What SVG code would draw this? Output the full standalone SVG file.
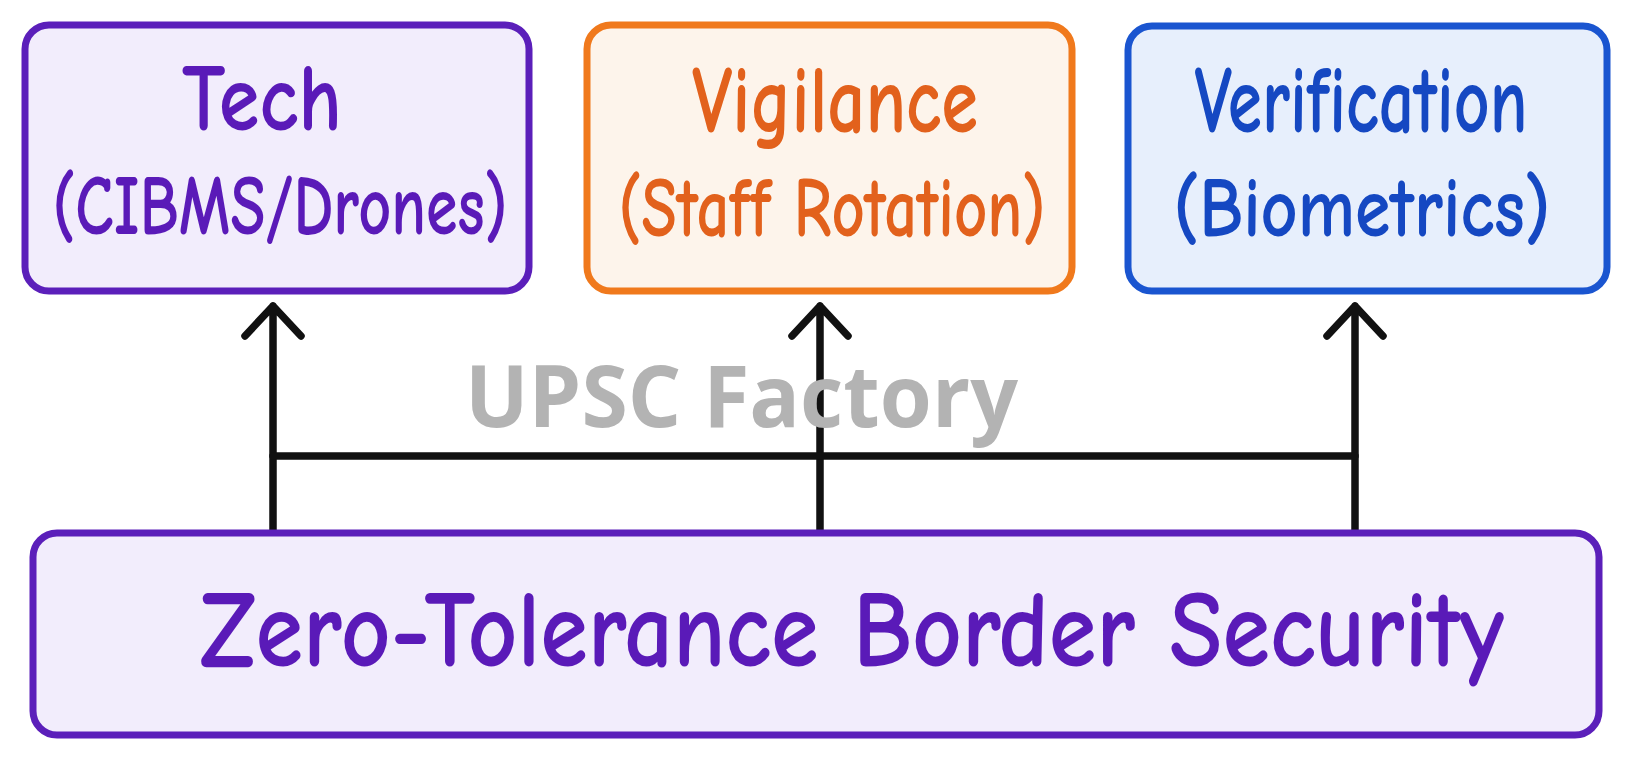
<svg xmlns="http://www.w3.org/2000/svg" width="1632" height="762" viewBox="0 0 1632 762">
<defs>
<style>
.box{stroke-width:7;stroke-linejoin:round}
.lbl{font-family:"Comic Neue","Noto Sans","DejaVu Sans",sans-serif;font-weight:700;text-anchor:middle}
.p{fill:#5a1ab8}.o{fill:#e2611c}.b{fill:#1548c2}
.conn{stroke:#111;stroke-width:7.5;fill:none;stroke-linecap:round;stroke-linejoin:round}
.wm{font-family:"Open Sans","Noto Sans",sans-serif;font-weight:700;fill:#b3b3b3}
</style>
</defs>
<rect width="1632" height="762" fill="#ffffff"/>
<g id="tech">
<rect class="box" x="25" y="25" width="504" height="266" rx="24" fill="#f2edfc" stroke="#5b1fba"/>
<text class="lbl p" x="262" y="130" font-size="96" textLength="160" lengthAdjust="spacingAndGlyphs">Tech</text>
<text class="lbl p" x="280" y="234" font-size="85" textLength="455" lengthAdjust="spacingAndGlyphs">(CIBMS/Drones)</text>
</g>
<g id="vigilance">
<rect class="box" x="587" y="25" width="485" height="266" rx="24" fill="#fdf4eb" stroke="#f0791c"/>
<text class="lbl o" x="835" y="132" font-size="96" textLength="286" lengthAdjust="spacingAndGlyphs">Vigilance</text>
<text class="lbl o" x="832" y="236" font-size="85" textLength="427" lengthAdjust="spacingAndGlyphs">(Staff Rotation)</text>
</g>
<g id="verification">
<rect class="box" x="1128" y="26" width="479" height="265" rx="24" fill="#e7effc" stroke="#1a55d0"/>
<text class="lbl b" x="1361" y="132" font-size="96" textLength="333" lengthAdjust="spacingAndGlyphs">Verification</text>
<text class="lbl b" x="1362" y="236" font-size="85" textLength="377" lengthAdjust="spacingAndGlyphs">(Biometrics)</text>
</g>
<g id="connectors">
<path class="conn" d="M273 531 V306 M245 336 L273 306 L301 336"/>
<path class="conn" d="M820 531 V306 M792 336 L820 306 L848 336"/>
<path class="conn" d="M1355 531 V306 M1327 336 L1355 306 L1383 336"/>
<path class="conn" d="M273 456 H1355"/>
</g>
<text class="wm" x="465" y="427" font-size="86" textLength="553" lengthAdjust="spacingAndGlyphs">UPSC Factory</text>
<g id="zero-tolerance">
<rect class="box" x="33" y="533" width="1566" height="202" rx="24" fill="#f2edfc" stroke="#5b1fba"/>
<text class="lbl p" x="852" y="666" font-size="110" textLength="1304" lengthAdjust="spacingAndGlyphs">Zero-Tolerance Border Security</text>
</g>
</svg>
